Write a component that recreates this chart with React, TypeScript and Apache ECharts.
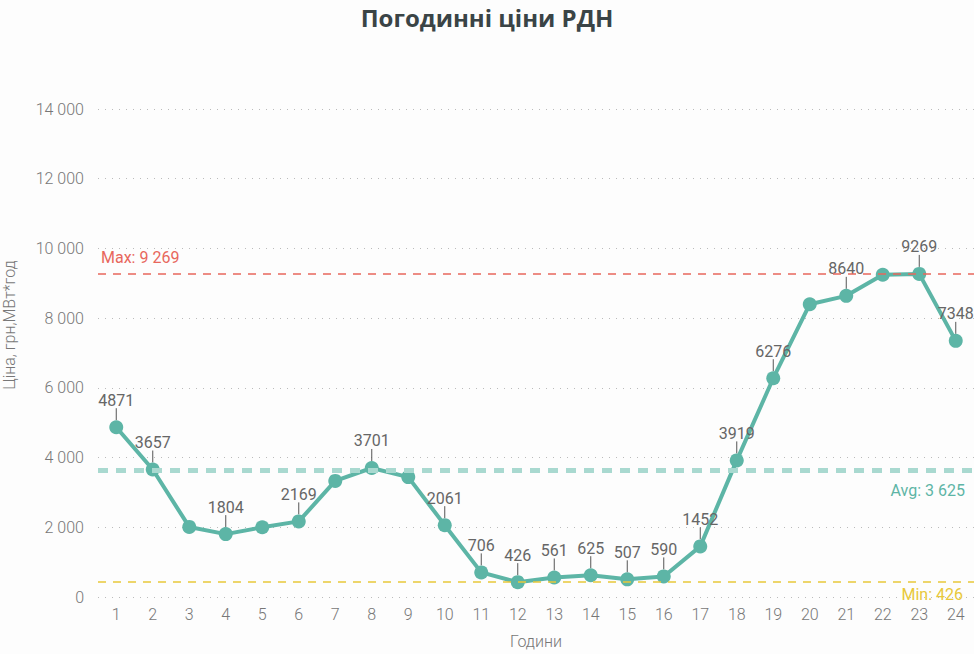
import React, { useEffect, useRef } from "react";
import * as echarts from "echarts";

const hours = ["1","2","3","4","5","6","7","8","9","10","11","12","13","14","15","16","17","18","19","20","21","22","23","24"];
const prices = [4871, 3657, 2010, 1804, 2000, 2169, 3330, 3701, 3440, 2061, 706, 426, 561, 625, 507, 590, 1452, 3919, 6276, 8400, 8640, 9245, 9269, 7348];
const labeled = [true, true, false, true, false, true, false, true, false, true, true, true, true, true, true, true, true, true, true, false, true, false, true, true];
const yTicks = [0, 2000, 4000, 6000, 8000, 10000, 12000, 14000];

const fmt = (v: number) => String(Math.round(v)).replace(/\B(?=(\d{3})+(?!\d))/g, " ");
const FONT = "Roboto";

export default function App() {
  const ref = useRef<HTMLDivElement>(null);
  useEffect(() => {
    if (!ref.current) return;
    const chart = echarts.init(ref.current, undefined, { renderer: "svg" });
    chart.setOption({
      animation: false,
      backgroundColor: "#fdfdfd",
      title: {
        text: "Погодинні ціни РДН",
        left: "center",
        top: 0,
        textStyle: { fontFamily: "Open Sans", fontWeight: "bold", fontSize: 24, color: "#3a4446" },
      },
      graphic: [
        {
          type: "text",
          x: 1,
          y: 325,
          rotation: Math.PI / 2,
          style: {
            text: "Ціна, грн,МВт*год",
            fontFamily: FONT,
            fontWeight: 300,
            fontSize: 16,
            fill: "#777",
            align: "center",
            verticalAlign: "top",
          },
        },
      ],
      grid: { left: 98, right: 0, top: 109, bottom: 56, containLabel: false },
      xAxis: {
        type: "category",
        data: hours,
        boundaryGap: true,
        name: "Години",
        nameLocation: "middle",
        nameGap: 36,
        nameTextStyle: { fontFamily: FONT, fontWeight: 300, fontSize: 16, color: "#777" },
        axisLine: { show: false },
        axisTick: { show: false },
        axisLabel: { fontFamily: FONT, fontWeight: 300, fontSize: 16, color: "#777", margin: 9 },
      },
      yAxis: {
        type: "value",
        min: yTicks[0],
        max: yTicks[yTicks.length - 1],
        interval: 2000,
        axisLine: { show: false },
        axisTick: { show: false },
        axisLabel: { fontFamily: FONT, fontWeight: 300, fontSize: 16, color: "#777", margin: 14, formatter: (v: number) => fmt(v) },
        splitLine: { lineStyle: { type: [1, 6], color: "#bbb", width: 1 } },
      },
      series: [
        {
          type: "line",
          data: prices.map((v, i) => ({
            value: v,
            label: { show: labeled[i] },
            labelLine: { show: labeled[i] },
          })),
          lineStyle: { color: "#5db5a6", width: 4 },
          itemStyle: { color: "#5db5a6" },
          symbol: "circle",
          symbolSize: 14,
          z: 3,
          label: {
            show: true,
            position: "top",
            distance: 4,
            fontFamily: FONT,
            fontSize: 16,
            color: "#666",
            formatter: (p: any) => String(p.value),
          },
          labelLayout: { dy: -8 },
          labelLine: { show: true, lineStyle: { color: "#555", width: 1 } },
          markLine: {
            symbol: "none",
            silent: true,
            data: [
              {
                type: "max",
                lineStyle: { color: "#e8675c", type: [8, 7], width: 1.5 },
                label: {
                  position: "insideStartTop",
                  formatter: (p: any) => "Max: " + fmt(p.value),
                  color: "#e8675c",
                  fontFamily: FONT,
                  fontSize: 16,
                  distance: [3, 8],
                },
              },
              {
                type: "average",
                lineStyle: { color: "#a9d9d0", type: [10, 8], width: 5 },
                label: {
                  position: "insideEndBottom",
                  formatter: (p: any) => "Avg: " + fmt(p.value),
                  color: "#5db5a6",
                  fontFamily: FONT,
                  fontSize: 16,
                  distance: [9, 12],
                },
              },
              {
                type: "min",
                lineStyle: { color: "#e8c83a", type: [8, 7], width: 1.5 },
                label: {
                  position: "insideEndBottom",
                  formatter: (p: any) => "Min: " + fmt(p.value),
                  color: "#e8c83a",
                  fontFamily: FONT,
                  fontSize: 16,
                  distance: [11, 4],
                },
              },
            ],
          },
        },
      ],
    });
    return () => chart.dispose();
  }, []);
  return <div ref={ref} style={{ position: "fixed", left: 0, top: 0, width: 974, height: 654 }} />;
}
